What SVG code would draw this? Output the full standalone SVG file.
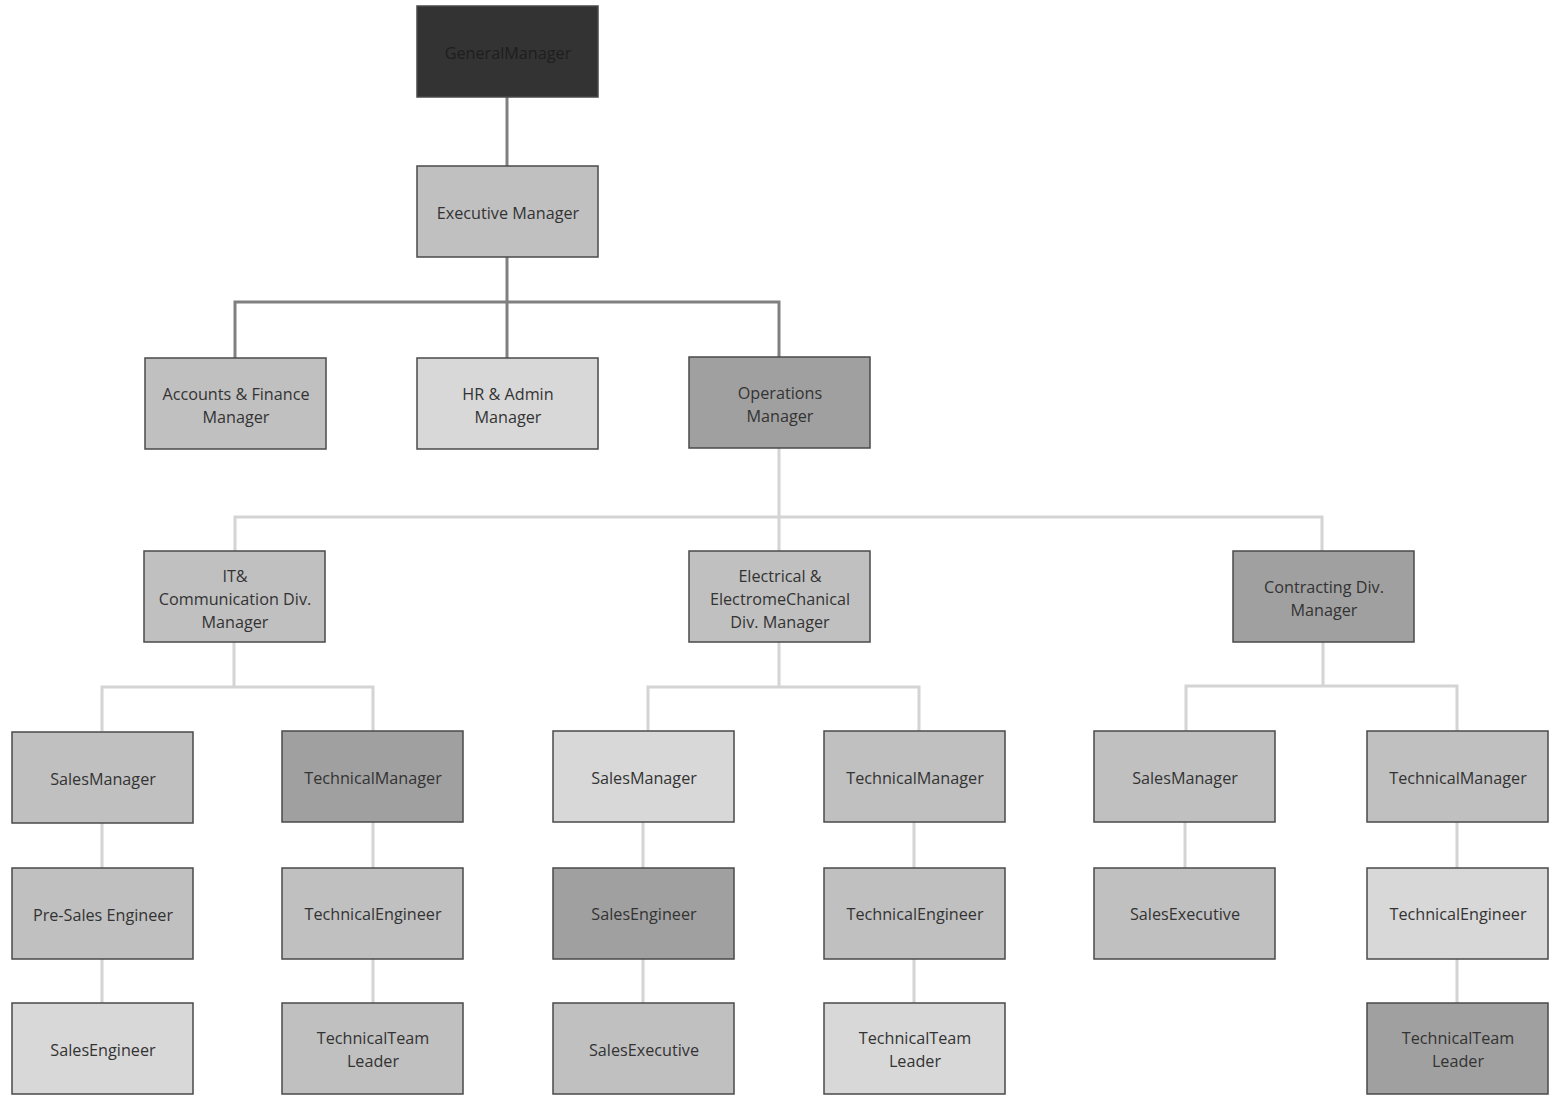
<svg xmlns="http://www.w3.org/2000/svg" width="1565" height="1110" viewBox="0 0 1565 1110">
<style>
.n{stroke:#4a4a4a;stroke-width:1.5}
.d{fill:#333333}
.m{fill:#c0c0c0}
.l{fill:#d8d8d8}
.k{fill:#a0a0a0}
text{font-family:"Open Sans","Noto Sans","Liberation Sans",sans-serif;font-size:16.2px;fill:#333;text-anchor:middle}
.c1 path{fill:none;stroke:#808080;stroke-width:3}
.c2 path{fill:none;stroke:#d4d4d4;stroke-width:3}
</style>
<rect width="1565" height="1110" fill="#fff"/>
<g id="connectors">
<g class="c1">
<path d="M507,97V166"/>
<path d="M507,257V302M235,358V302H779V358M507,302V358"/>
</g>
<g class="c2">
<path d="M779,448V517M235,551V517H1322V551M779,517V551"/>
<path d="M234,642V687M102,731V687H373V731"/>
<path d="M779,642V687M648,731V687H919V731"/>
<path d="M1323,642V686M1186,731V686H1457V731"/>
<path d="M102,823V868M102,959V1003"/>
<path d="M373,822V868M373,959V1003"/>
<path d="M643,822V868M643,959V1003"/>
<path d="M914,822V868M914,959V1003"/>
<path d="M1185,822V868"/>
<path d="M1457,822V868M1457,959V1003"/>
</g>
</g>
<g id="gm"><rect class="n d" x="417" y="6" width="181" height="91"/><text x="508" y="59" style="fill:#1e1e1e">GeneralManager</text></g>
<g id="exec"><rect class="n m" x="417" y="166" width="181" height="91"/><text x="508" y="219">Executive Manager</text></g>
<g id="acc"><rect class="n m" x="145" y="358" width="181" height="91"/><text x="236" y="400">Accounts &amp; Finance</text><text x="236" y="423">Manager</text></g>
<g id="hr"><rect class="n l" x="417" y="358" width="181" height="91"/><text x="508" y="400">HR &amp; Admin</text><text x="508" y="423">Manager</text></g>
<g id="ops"><rect class="n k" x="689" y="357" width="181" height="91"/><text x="780" y="399">Operations</text><text x="780" y="422">Manager</text></g>
<g id="it"><rect class="n m" x="144" y="551" width="181" height="91"/><text x="235" y="582">IT&amp;</text><text x="235" y="605">Communication Div.</text><text x="235" y="628">Manager</text></g>
<g id="elec"><rect class="n m" x="689" y="551" width="181" height="91"/><text x="780" y="582">Electrical &amp;</text><text x="780" y="605">ElectromeChanical</text><text x="780" y="628">Div. Manager</text></g>
<g id="contr"><rect class="n k" x="1233" y="551" width="181" height="91"/><text x="1324" y="593">Contracting Div.</text><text x="1324" y="616">Manager</text></g>
<g id="sm1"><rect class="n m" x="12" y="732" width="181" height="91"/><text x="103" y="785">SalesManager</text></g>
<g id="tm1"><rect class="n k" x="282" y="731" width="181" height="91"/><text x="373" y="784">TechnicalManager</text></g>
<g id="sm2"><rect class="n l" x="553" y="731" width="181" height="91"/><text x="644" y="784">SalesManager</text></g>
<g id="tm2"><rect class="n m" x="824" y="731" width="181" height="91"/><text x="915" y="784">TechnicalManager</text></g>
<g id="sm3"><rect class="n m" x="1094" y="731" width="181" height="91"/><text x="1185" y="784">SalesManager</text></g>
<g id="tm3"><rect class="n m" x="1367" y="731" width="181" height="91"/><text x="1458" y="784">TechnicalManager</text></g>
<g id="pse"><rect class="n m" x="12" y="868" width="181" height="91"/><text x="103" y="921">Pre-Sales Engineer</text></g>
<g id="te1"><rect class="n m" x="282" y="868" width="181" height="91"/><text x="373" y="920">TechnicalEngineer</text></g>
<g id="se2"><rect class="n k" x="553" y="868" width="181" height="91"/><text x="644" y="920">SalesEngineer</text></g>
<g id="te2"><rect class="n m" x="824" y="868" width="181" height="91"/><text x="915" y="920">TechnicalEngineer</text></g>
<g id="sx3"><rect class="n m" x="1094" y="868" width="181" height="91"/><text x="1185" y="920">SalesExecutive</text></g>
<g id="te3"><rect class="n l" x="1367" y="868" width="181" height="91"/><text x="1458" y="920">TechnicalEngineer</text></g>
<g id="se1"><rect class="n l" x="12" y="1003" width="181" height="91"/><text x="103" y="1056">SalesEngineer</text></g>
<g id="tl1"><rect class="n m" x="282" y="1003" width="181" height="91"/><text x="373" y="1044">TechnicalTeam</text><text x="373" y="1067">Leader</text></g>
<g id="sx2"><rect class="n m" x="553" y="1003" width="181" height="91"/><text x="644" y="1056">SalesExecutive</text></g>
<g id="tl2"><rect class="n l" x="824" y="1003" width="181" height="91"/><text x="915" y="1044">TechnicalTeam</text><text x="915" y="1067">Leader</text></g>
<g id="tl3"><rect class="n k" x="1367" y="1003" width="181" height="91"/><text x="1458" y="1044">TechnicalTeam</text><text x="1458" y="1067">Leader</text></g>
</svg>
